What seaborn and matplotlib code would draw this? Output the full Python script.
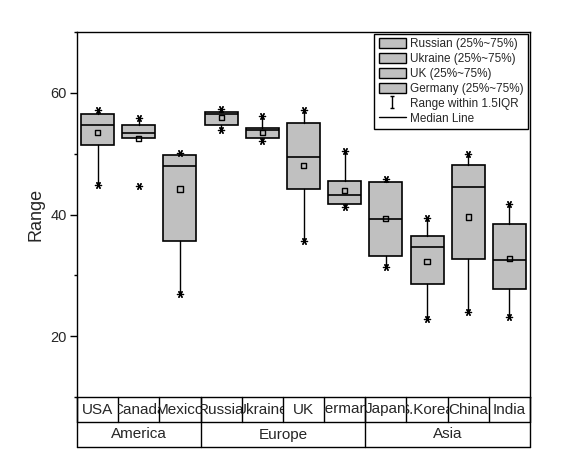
import numpy as np
import matplotlib
matplotlib.use("Agg")
import matplotlib.pyplot as plt
from matplotlib.patches import Patch, Rectangle
from matplotlib.lines import Line2D
from matplotlib.path import Path
from matplotlib.ticker import MultipleLocator
import seaborn as sns

# values
countries = ["USA", "Canada", "Mexico", "Russia", "Ukraine", "UK", "Germany",
             "Japan", "S.Korea", "China", "India"]
regions = ["America", "Europe", "Asia"]
region_sizes = [3, 4, 4]

q1 = [51.4, 52.6, 35.6, 54.7, 52.6, 44.2, 41.8, 33.2, 28.6, 32.7, 27.7]
med = [54.7, 53.4, 48.0, 56.6, 53.9, 49.5, 43.2, 39.3, 34.7, 44.5, 32.6]
q3 = [56.5, 54.7, 49.8, 56.8, 54.2, 55.0, 45.5, 45.4, 36.5, 48.1, 38.5]
means = [53.5, 52.5, 44.2, 55.9, 53.5, 48.1, 44.0, 39.4, 32.3, 39.6, 32.8]
whis_lo = [44.9, 52.6, 27.0, 53.9, 52.1, 35.6, 41.3, 31.3, 22.8, 23.9, 23.2]
whis_hi = [57.2, 55.9, 50.1, 57.3, 56.2, 57.2, 50.4, 45.8, 39.5, 50.0, 41.7]
p_min = [44.9, 44.7, 27.0, 53.9, 52.1, 35.6, 41.3, 31.3, 22.8, 23.9, 23.2]
p_max = [57.2, 55.9, 50.1, 57.3, 56.2, 57.2, 50.4, 45.8, 39.5, 50.0, 41.7]

legend_labels = ["Russian (25%~75%)", "Ukraine (25%~75%)", "UK (25%~75%)",
                 "Germany (25%~75%)", "Range within 1.5IQR", "Median Line"]

sns.set_style("white")
plt.rcParams["font.family"] = ["Liberation Sans", "DejaVu Sans"]

box_color = "#C0C0C0"

fig = plt.figure(figsize=(5.7, 4.62), dpi=100)
ax = fig.add_axes([77 / 570, 1 - 397 / 462, 453 / 570, 365 / 462])

pos = np.arange(len(countries))
stats = []
for i, name in enumerate(countries):
    stats.append(dict(label=name, q1=q1[i], med=med[i], q3=q3[i],
                      whislo=whis_lo[i], whishi=whis_hi[i], fliers=[]))

ax.bxp(stats, positions=pos, widths=0.8, patch_artist=True,
       showcaps=False, showfliers=False,
       boxprops=dict(facecolor=box_color, edgecolor="black", linewidth=1.2),
       medianprops=dict(color="black", linewidth=1.2),
       whiskerprops=dict(color="black", linewidth=1.0))

# mean squares and 1%/99% star markers
sns.scatterplot(x=pos, y=means, marker="s", s=14, facecolor="none",
                edgecolor="black", linewidth=1.0, ax=ax, zorder=5)
star = (6, 2, 90)
sns.scatterplot(x=np.concatenate([pos, pos]), y=p_min + p_max, marker=star,
                s=20, color="black", linewidth=0.9, ax=ax, zorder=5)

ax.set_xlim(-0.5, len(countries) - 0.5)
ax.set_ylim(10, 70)
ax.set_xticks([])
ax.set_yticks([20, 40, 60])
ax.yaxis.set_minor_locator(MultipleLocator(10))
ax.tick_params(axis="y", which="major", direction="out", length=4.8, width=1,
               color="black", labelsize=10.5, pad=2.5, left=True)
ax.tick_params(axis="y", which="minor", direction="out", length=2.2, width=1,
               color="black", left=True)
ax.set_ylabel("Range", fontsize=13, labelpad=4)
for sp in ax.spines.values():
    sp.set_color("black")
    sp.set_linewidth(1.0)

# two-row category table under the axis
h1 = 25 / 365
h2 = 50 / 365
tr = ax.get_xaxis_transform()
lo, hi = -0.5, len(countries) - 0.5
line_kw = dict(color="black", linewidth=1.0, transform=tr, clip_on=False)
ax.plot([lo, hi], [-h1, -h1], **line_kw)
ax.plot([lo, hi], [-h2, -h2], **line_kw)
for i in range(len(countries) + 1):
    ax.plot([i - 0.5, i - 0.5], [0, -h1], **line_kw)
edges = np.concatenate([[0], np.cumsum(region_sizes)]) - 0.5
for e in edges:
    ax.plot([e, e], [0, -h2], **line_kw)

for i, name in enumerate(countries):
    t = ax.text(i, -h1 / 2, name, ha="center", va="center", fontsize=11,
                transform=tr)
    t.set_clip_path(Rectangle((i - 0.5, -h1), 1, h1, transform=tr))
    t.set_clip_on(True)
for j, reg in enumerate(regions):
    ax.text((edges[j] + edges[j + 1]) / 2, -(h1 + h2) / 2, reg, ha="center",
            va="center", fontsize=11, transform=tr, clip_on=False)

# legend
ibeam = Path([(-0.35, -1), (0.35, -1), (0, -1), (0, 1), (-0.35, 1), (0.35, 1)],
             [Path.MOVETO, Path.LINETO, Path.MOVETO, Path.LINETO,
              Path.MOVETO, Path.LINETO])
handles = [Patch(facecolor=box_color, edgecolor="black", linewidth=1.0)
           for _ in range(4)]
handles.append(Line2D([], [], marker=ibeam, markersize=9, linestyle="none",
                      color="black", markeredgewidth=1.0))
handles.append(Line2D([], [], color="black", linewidth=1.0))
leg = ax.legend(handles, legend_labels, loc="upper right",
                bbox_to_anchor=(1.0, 1.0), borderaxespad=0.15, fontsize=8.5,
                frameon=True, fancybox=False, framealpha=1, edgecolor="black",
                handlelength=2.3, handleheight=0.9, handletextpad=0.4,
                labelspacing=0.25, borderpad=0.35)
leg.get_frame().set_linewidth(1.0)

fig.savefig("out.png", dpi=100)
